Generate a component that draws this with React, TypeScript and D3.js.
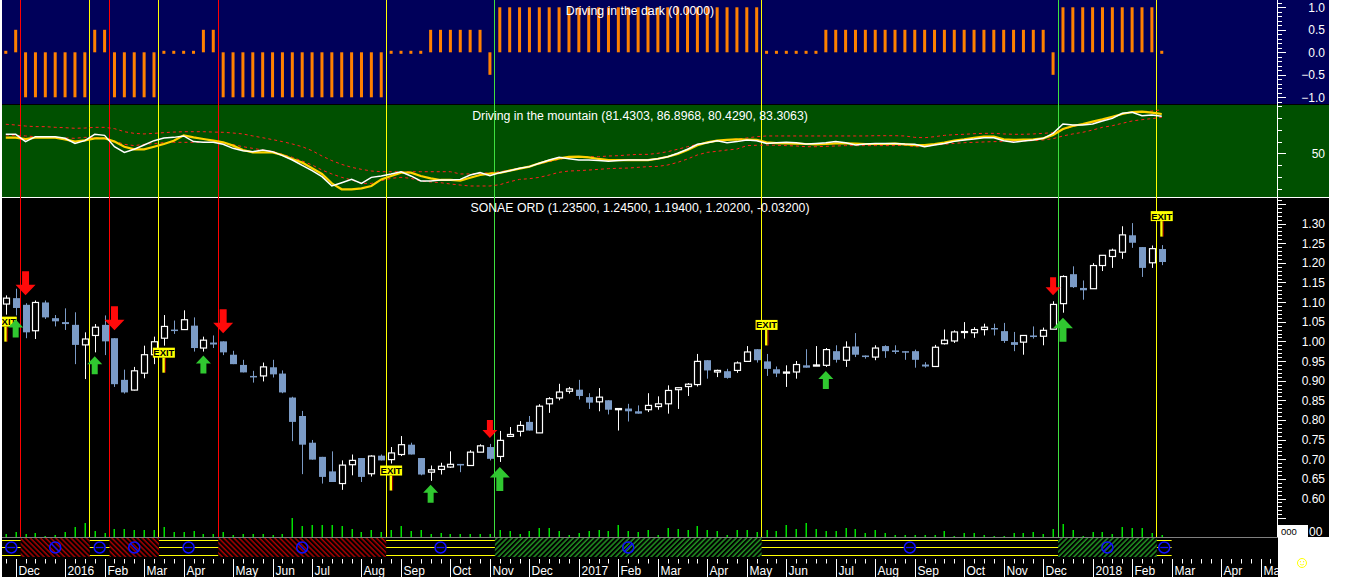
import React, { useEffect, useRef } from "react";
import * as d3 from "d3";

// weekly bars, the first one is the week ending Fri 27 Nov 2015
const firstWeek = new Date(2015, 10, 27);
const axisWeeks = 129; // the time axis runs on past the last bar

const opens = [
  1.095, 1.11, 1.093, 1.027, 1.099, 1.059, 1.049, 1.042, 0.991, 1.015,
  1.042, 1.008, 0.902, 0.876, 0.919, 0.966, 1.008, 1.03, 1.03, 1.04,
  0.983, 0.997, 1.0, 0.966, 0.94, 0.912, 0.912, 0.934, 0.918, 0.857,
  0.81, 0.742, 0.706, 0.669, 0.638, 0.686, 0.703, 0.663, 0.709, 0.699,
  0.712, 0.737, 0.703, 0.667, 0.674, 0.68, 0.688, 0.684, 0.718, 0.731,
  0.707, 0.758, 0.771, 0.795, 0.767, 0.841, 0.856, 0.873, 0.877, 0.858,
  0.846, 0.85, 0.826, 0.829, 0.822, 0.826, 0.834, 0.841, 0.877, 0.885,
  0.89, 0.952, 0.922, 0.924, 0.926, 0.949, 0.98, 0.949, 0.929, 0.919,
  0.922, 0.939, 0.937, 0.939, 0.975, 0.952, 0.987, 0.964, 0.96, 0.988,
  0.977, 0.975, 0.975, 0.941, 0.936, 0.994, 1.001, 1.024, 1.022, 1.03,
  1.034, 1.026, 0.998, 0.998, 1.015, 1.013, 1.031, 1.096, 1.171, 1.136,
  1.134, 1.193, 1.216, 1.227, 1.27, 1.24, 1.2, 1.235,
];
const highs = [
  1.117, 1.134, 1.097, 1.104, 1.104, 1.067, 1.084, 1.074, 1.023, 1.044,
  1.066, 1.008, 0.928, 0.935, 0.989, 1.012, 1.067, 1.053, 1.079, 1.061,
  1.012, 1.015, 1.0, 0.976, 0.953, 0.925, 0.946, 0.953, 0.926, 0.859,
  0.823, 0.749, 0.706, 0.72, 0.697, 0.712, 0.703, 0.71, 0.712, 0.731,
  0.759, 0.742, 0.703, 0.684, 0.691, 0.72, 0.688, 0.723, 0.738, 0.739,
  0.772, 0.782, 0.797, 0.81, 0.84, 0.858, 0.892, 0.884, 0.902, 0.868,
  0.881, 0.85, 0.829, 0.841, 0.837, 0.868, 0.86, 0.888, 0.882, 0.894,
  0.968, 0.952, 0.928, 0.93, 0.949, 0.988, 0.98, 0.968, 0.936, 0.939,
  0.95, 0.98, 0.988, 0.983, 0.99, 1.0, 1.021, 0.964, 0.99, 0.99,
  0.99, 0.975, 0.979, 0.947, 0.991, 1.03, 1.028, 1.049, 1.036, 1.045,
  1.045, 1.047, 1.024, 1.015, 1.038, 1.035, 1.102, 1.168, 1.191, 1.155,
  1.199, 1.219, 1.236, 1.293, 1.301, 1.24, 1.244, 1.245,
];
const lows = [
  1.068, 1.066, 1.008, 1.006, 1.057, 1.038, 1.029, 0.942, 0.904, 0.972,
  0.965, 0.884, 0.867, 0.875, 0.906, 0.942, 0.989, 1.019, 1.03, 0.974,
  0.974, 0.983, 0.965, 0.942, 0.921, 0.895, 0.898, 0.908, 0.868, 0.746,
  0.662, 0.699, 0.638, 0.642, 0.622, 0.659, 0.642, 0.656, 0.697, 0.689,
  0.708, 0.712, 0.659, 0.645, 0.661, 0.678, 0.667, 0.684, 0.718, 0.697,
  0.693, 0.758, 0.758, 0.773, 0.767, 0.818, 0.85, 0.867, 0.852, 0.828,
  0.822, 0.814, 0.773, 0.796, 0.816, 0.82, 0.826, 0.816, 0.828, 0.861,
  0.885, 0.905, 0.909, 0.905, 0.92, 0.949, 0.946, 0.912, 0.909, 0.884,
  0.905, 0.933, 0.937, 0.935, 0.946, 0.935, 0.96, 0.956, 0.952, 0.958,
  0.968, 0.953, 0.933, 0.933, 0.936, 0.992, 0.996, 1.007, 1.009, 1.015,
  1.015, 0.996, 0.975, 0.966, 1.007, 0.99, 1.031, 1.073, 1.136, 1.106,
  1.134, 1.179, 1.187, 1.21, 1.238, 1.164, 1.187, 1.194,
];
const closes = [
  1.11, 1.085, 1.023, 1.099, 1.061, 1.051, 1.044, 0.991, 1.006, 1.036,
  1.0, 0.891, 0.87, 0.925, 0.966, 0.999, 1.038, 1.028, 1.055, 0.983,
  1.003, 0.992, 0.972, 0.942, 0.921, 0.91, 0.935, 0.916, 0.87, 0.795,
  0.737, 0.699, 0.655, 0.642, 0.685, 0.697, 0.655, 0.708, 0.697, 0.716,
  0.737, 0.712, 0.661, 0.673, 0.682, 0.687, 0.687, 0.718, 0.734, 0.701,
  0.748, 0.763, 0.786, 0.773, 0.835, 0.854, 0.871, 0.879, 0.861, 0.844,
  0.858, 0.826, 0.829, 0.822, 0.816, 0.837, 0.841, 0.875, 0.882, 0.891,
  0.949, 0.926, 0.926, 0.907, 0.945, 0.973, 0.952, 0.93, 0.918, 0.922,
  0.941, 0.933, 0.94, 0.979, 0.953, 0.985, 0.966, 0.96, 0.983, 0.975,
  0.973, 0.974, 0.953, 0.936, 0.985, 1.003, 1.024, 1.025, 1.03, 1.036,
  1.031, 1.001, 0.991, 1.015, 1.011, 1.028, 1.094, 1.165, 1.138, 1.13,
  1.193, 1.219, 1.232, 1.271, 1.251, 1.187, 1.236, 1.202,
];
// volume, thousands of shares
const volumes = [
  300, 500, 300, 400, 100, 200, 500, 1000, 1400, 600,
  400, 800, 800, 700, 700, 700, 1000, 500, 500, 600,
  300, 300, 500, 200, 300, 300, 300, 200, 300, 1900,
  1100, 1200, 1200, 1200, 1100, 800, 500, 700, 500, 700,
  1100, 600, 700, 300, 400, 300, 300, 300, 300, 300,
  700, 600, 300, 600, 900, 900, 600, 200, 400, 600,
  700, 600, 1200, 600, 500, 700, 200, 900, 800, 700,
  1100, 700, 600, 200, 700, 700, 500, 700, 600, 1200,
  800, 1400, 800, 600, 600, 900, 800, 400, 700, 400,
  200, 200, 200, 200, 200, 600, 100, 400, 400, 200,
  100, 100, 400, 400, 500, 300, 800, 1300, 700, 100,
  500, 500, 300, 1000, 900, 900, 400, 200,
];

// "Driving in the dark"
const darkValues = [
  0, 0.5, -1, -1, -1, -1, -1, -1, -1, 0.5,
  0.5, -1, -1, -1, -1, -1, 0, 0, 0, 0,
  0.5, 0.5, -1, -1, -1, -1, -1, -1, -1, -1,
  -1, -1, -1, -1, -1, -1, -1, -1, -1, 0,
  0, 0, 0, 0.5, 0.5, 0.5, 0.5, 0.5, 0.5, -0.5,
  1, 1, 1, 1, 1, 1, 1, 1, 1, 1,
  1, 1, 1, 1, 1, 1, 1, 1, 1, 1,
  1, 1, 1, 1, 1, 1, 1, 0, 0, 0,
  0, 0, 0, 0.5, 0.5, 0.5, 0.5, 0.5, 0.5, 0.5,
  0.5, 0.5, 0.5, 0.5, 0.5, 0.5, 0.5, 0.5, 0.5, 0.5,
  0.5, 0.5, 0.5, 0.5, 0.5, 0.5, -0.5, 1, 1, 1,
  1, 1, 1, 1, 1, 1, 1, 0,
];

// "Driving in the mountain"
const mountainWhite = [
  66.1, 66.1, 59.9, 64.1, 64.1, 64.1, 62.7, 58.4, 60.7, 66.1,
  65.2, 55.6, 50.8, 53.4, 57.0, 60.7, 63.0, 63.5, 64.7, 59.9,
  59.3, 59.3, 57.6, 54.2, 52.2, 51.4, 52.8, 51.4, 48.0, 44.3,
  39.8, 35.3, 30.2, 22.3, 25.1, 27.9, 24.5, 29.6, 30.8, 32.5,
  34.4, 30.8, 26.5, 26.5, 27.4, 27.4, 27.9, 31.6, 33.6, 31.0,
  33.6, 35.3, 37.3, 38.7, 41.5, 44.3, 46.6, 45.4, 44.3, 44.3,
  43.8, 43.2, 43.8, 44.3, 44.3, 44.3, 45.4, 47.1, 50.0, 53.4,
  57.6, 59.0, 60.7, 59.0, 59.9, 61.3, 60.7, 58.4, 59.0, 59.3,
  59.0, 57.9, 58.4, 59.0, 59.9, 59.0, 57.0, 57.9, 58.4, 58.4,
  58.4, 57.9, 57.6, 55.6, 57.0, 58.4, 60.1, 61.3, 62.1, 63.2,
  63.2, 60.7, 59.3, 60.4, 61.3, 62.7, 66.9, 74.8, 74.0, 74.0,
  74.8, 77.4, 79.6, 83.9, 84.7, 81.9, 82.5, 81.4303,
];
const mountainYellow = [
  63.2, 63.2, 62.1, 63.2, 63.2, 63.2, 61.8, 59.9, 61.0, 62.7,
  62.7, 59.9, 55.6, 53.4, 53.4, 55.6, 57.9, 60.7, 65.2, 63.5,
  62.1, 60.7, 59.3, 56.5, 52.8, 50.8, 50.8, 50.8, 48.6, 45.2,
  42.1, 37.3, 32.5, 24.5, 19.5, 19.5, 20.3, 22.3, 27.9, 30.8,
  33.6, 33.6, 30.8, 28.8, 27.4, 27.4, 26.8, 29.3, 31.6, 32.7,
  33.3, 35.3, 37.0, 38.7, 41.5, 43.8, 45.7, 46.9, 47.1, 46.6,
  45.2, 44.3, 44.3, 44.3, 44.3, 44.3, 45.4, 47.1, 49.4, 52.8,
  56.8, 59.3, 60.7, 61.3, 61.8, 61.6, 61.3, 59.3, 58.7, 58.4,
  58.2, 57.9, 57.6, 57.9, 58.4, 58.4, 58.2, 57.9, 57.9, 57.9,
  58.2, 57.6, 57.0, 57.0, 57.9, 59.0, 60.7, 61.8, 63.2, 64.1,
  64.1, 61.8, 61.3, 61.6, 61.8, 62.7, 65.5, 70.6, 73.1, 74.8,
  76.8, 78.8, 81.0, 83.3, 85.0, 85.3, 84.4, 83.3063,
];
const mountainUpper = [
  74.6, 74.0, 73.1, 72.6, 72.6, 72.0, 71.7, 71.2, 71.4, 72.0,
  72.0, 70.9, 68.3, 66.9, 66.4, 66.9, 67.5, 68.0, 68.3, 68.3,
  68.3, 68.0, 67.8, 67.2, 66.4, 64.7, 63.2, 61.6, 59.9, 57.9,
  55.6, 52.2, 47.7, 43.8, 40.6, 38.1, 36.4, 35.0, 34.4, 34.4,
  34.4, 34.4, 34.4, 34.4, 34.4, 34.4, 32.5, 32.5, 33.0, 33.6,
  34.4, 35.8, 37.3, 39.2, 40.9, 42.9, 44.9, 46.3, 47.1, 47.1,
  47.1, 47.7, 48.0, 48.6, 49.1, 49.1, 50.0, 51.4, 53.4, 55.6,
  57.6, 59.0, 60.4, 61.3, 62.1, 63.0, 64.1, 64.7, 64.7, 64.7,
  64.7, 64.7, 64.7, 64.7, 64.7, 64.7, 64.7, 64.7, 64.9, 64.9,
  64.9, 64.7, 63.5, 63.2, 64.1, 65.2, 65.8, 66.1, 66.6, 66.9,
  66.9, 66.4, 66.1, 66.1, 66.4, 66.9, 67.5, 70.3, 72.6, 74.8,
  76.2, 78.2, 80.5, 83.3, 84.7, 85.3, 85.8, 86.8968,
];
const mountainLower = [
  65.5, 65.2, 64.7, 64.1, 64.1, 63.5, 63.0, 62.7, 63.5, 63.5,
  62.7, 60.4, 57.6, 56.5, 57.6, 58.2, 59.0, 59.3, 59.3, 59.3,
  59.3, 59.3, 58.7, 57.3, 55.6, 54.2, 52.8, 51.7, 49.1, 46.6,
  43.5, 40.1, 35.8, 32.5, 29.6, 27.4, 24.5, 24.5, 26.8, 28.8,
  29.6, 28.8, 26.5, 25.7, 25.1, 24.0, 23.1, 22.3, 22.3, 22.3,
  23.4, 25.9, 27.9, 28.5, 29.6, 31.6, 33.9, 35.0, 35.3, 35.8,
  36.4, 37.0, 37.3, 37.5, 38.1, 38.7, 38.9, 40.1, 42.3, 45.2,
  48.6, 50.8, 51.7, 52.8, 53.6, 56.5, 56.8, 57.0, 56.8, 56.5,
  56.2, 55.6, 55.6, 55.9, 56.2, 56.5, 56.5, 56.5, 56.5, 56.5,
  56.5, 56.8, 55.6, 55.6, 57.0, 57.6, 58.4, 59.0, 59.3, 59.6,
  59.9, 59.9, 60.1, 60.4, 60.7, 61.3, 62.4, 64.7, 66.4, 67.8,
  69.7, 72.0, 73.4, 75.4, 77.4, 78.5, 79.4, 80.429,
];

const darkTicks = [1.0, 0.5, 0.0, -0.5, -1.0];
const mountainTicks = [50];
const priceTicks = [1.3, 1.25, 1.2, 1.15, 1.1, 1.05, 1.0, 0.95, 0.9, 0.85, 0.8, 0.75, 0.7, 0.65, 0.6];

const titleDark = "Driving in the dark (0.0000)";
const titleMountain = "Driving in the mountain (81.4303, 86.8968, 80.4290, 83.3063)";
const titlePrice = "SONAE ORD (1.23500, 1.24500, 1.19400, 1.20200, -0.03200)";

// position changes: short = red, flat/exit = yellow, long = green
const signals = [
  { bar: 2, kind: "short" },
  { bar: 9, kind: "flat" },
  { bar: 11, kind: "short" },
  { bar: 16, kind: "flat" },
  { bar: 22, kind: "short" },
  { bar: 39, kind: "flat" },
  { bar: 50, kind: "long" },
  { bar: 77, kind: "flat" },
  { bar: 107, kind: "long" },
  { bar: 117, kind: "flat" },
];

const arrows = [
  { bar: 1, dir: "up", big: false },
  { bar: 2, dir: "down", big: true },
  { bar: 9, dir: "up", big: false },
  { bar: 11, dir: "down", big: true },
  { bar: 20, dir: "up", big: false },
  { bar: 22, dir: "down", big: true },
  { bar: 43, dir: "up", big: false },
  { bar: 49, dir: "down", big: false },
  { bar: 50, dir: "up", big: true },
  { bar: 83, dir: "up", big: false },
  { bar: 106, dir: "down", big: false },
  { bar: 107, dir: "up", big: true },
];

const exits = [
  { bar: 0, side: "below" },
  { bar: 16, side: "below" },
  { bar: 39, side: "below" },
  { bar: 77, side: "above" },
  { bar: 117, side: "above" },
];

const lineColor: Record<string, string> = { short: "#ff0000", flat: "#ffff00", long: "#3ee03e" };

export default function App() {
  const svgRef = useRef<SVGSVGElement | null>(null);

  useEffect(() => {
    const node = svgRef.current;
    if (!node) return;
    document.body.style.margin = "0";
    const svg = d3.select(node);
    svg.selectAll("*").remove();

    const font = "'Liberation Sans', Arial, sans-serif";
    const plotLeft = 2;
    const plotRight = 1278;
    const panelRight = 1329;

    const x = d3.scaleLinear().domain([0, 117]).range([5.8, 1161.76]);
    const step = x(1) - x(0);
    const yDark = d3.scaleLinear().domain([-1, 1]).range([97.3, 7.3]);
    const yMount = d3.scaleLinear().domain([20, 90]).range([188.7, 106.1]);
    const yPrice = d3.scaleLinear().domain([0.6, 1.3]).range([498.5, 223.5]);
    const yVol = d3.scaleLinear().domain([0, 2000]).range([537, 517]);

    const defs = svg.append("defs");
    defs
      .append("clipPath")
      .attr("id", "plotClip")
      .append("rect")
      .attr("x", plotLeft)
      .attr("y", 0)
      .attr("width", plotRight - plotLeft)
      .attr("height", 577);

    const hatch = (id: string, color: string, angle: number) => {
      const p = defs
        .append("pattern")
        .attr("id", id)
        .attr("patternUnits", "userSpaceOnUse")
        .attr("width", 3.6)
        .attr("height", 3.6)
        .attr("patternTransform", `rotate(${angle})`);
      p.append("line")
        .attr("x1", 1)
        .attr("x2", 1)
        .attr("y1", 0)
        .attr("y2", 3.6)
        .attr("stroke", color)
        .attr("stroke-width", 1);
    };
    hatch("hatchShort", "#ff0000", -45);
    hatch("hatchLong", "#33dd33", 45);

    //* panel backgrounds
    const bg = (y: number, h: number, fill: string, w = panelRight - plotLeft) =>
      svg
        .append("rect")
        .attr("x", plotLeft)
        .attr("y", y)
        .attr("width", w)
        .attr("height", h)
        .attr("fill", fill);
    bg(0, 104, "#00005a");
    bg(104, 1, "#000000");
    bg(105, 92, "#005000");
    bg(197, 1, "#ffffff");
    bg(198, 339, "#000000");
    bg(537, 1, "#808080", plotRight - plotLeft);
    bg(538, 39, "#000000", plotRight - plotLeft);

    const plot = svg.append("g").attr("clip-path", "url(#plotClip)");

    // signal lines through all three panels
    const signalX = (bar: number) => x(bar) - step / 2;
    signals.forEach((s) => {
      plot
        .append("line")
        .attr("x1", signalX(s.bar))
        .attr("x2", signalX(s.bar))
        .attr("y1", 0)
        .attr("y2", 537)
        .attr("stroke", lineColor[s.kind])
        .attr("stroke-width", 1)
        .attr("shape-rendering", "crispEdges");
    });

    //* top panel histogram
    plot
      .append("g")
      .selectAll("rect")
      .data(darkValues)
      .enter()
      .append("rect")
      .attr("x", (d, i) => x(i) - 1.5)
      .attr("width", 3)
      .attr("y", (d) => (d === 0 ? yDark(0) - 1.5 : Math.min(yDark(d), yDark(0))))
      .attr("height", (d) => (d === 0 ? 3 : Math.abs(yDark(d) - yDark(0))))
      .attr("fill", "#ff8000");

    //* middle panel lines
    const line = d3
      .line<number>()
      .x((d, i) => x(i))
      .y((d) => yMount(d));
    [mountainUpper, mountainLower].forEach((series) => {
      plot
        .append("path")
        .attr("d", line(series))
        .attr("fill", "none")
        .attr("stroke", "#ff2020")
        .attr("stroke-width", 1)
        .attr("stroke-dasharray", "3,3");
    });
    plot
      .append("path")
      .attr("d", line(mountainYellow))
      .attr("fill", "none")
      .attr("stroke", "#ffd200")
      .attr("stroke-width", 2.2);
    plot
      .append("path")
      .attr("d", line(mountainWhite))
      .attr("fill", "none")
      .attr("stroke", "#ffffff")
      .attr("stroke-width", 1.5);

    //* volume
    plot
      .append("g")
      .selectAll("rect")
      .data(volumes)
      .enter()
      .append("rect")
      .attr("x", (d, i) => Math.round(x(i)) - 0.5)
      .attr("width", 1.5)
      .attr("y", (d) => yVol(d))
      .attr("height", (d) => 537 - yVol(d))
      .attr("fill", "#00e000");

    //* candles
    const bull = "#ffffff";
    const bear = "#7b9bc6";
    const candles = plot.append("g");
    opens.forEach((o, i) => {
      const c = closes[i];
      const up = c >= o;
      const cx = Math.round(x(i)) + 0.5;
      candles
        .append("line")
        .attr("x1", cx)
        .attr("x2", cx)
        .attr("y1", yPrice(highs[i]))
        .attr("y2", yPrice(lows[i]))
        .attr("stroke", up ? bull : bear)
        .attr("stroke-width", 1);
      const top = yPrice(Math.max(o, c));
      const bot = yPrice(Math.min(o, c));
      if (up) {
        candles
          .append("rect")
          .attr("x", cx - 3)
          .attr("width", 6)
          .attr("y", top)
          .attr("height", Math.max(bot - top, 1))
          .attr("fill", "#000000")
          .attr("stroke", bull)
          .attr("stroke-width", 1.2);
      } else {
        candles
          .append("rect")
          .attr("x", cx - 3.5)
          .attr("width", 7)
          .attr("y", top)
          .attr("height", Math.max(bot - top, 1.5))
          .attr("fill", bear);
      }
    });

    //* exit labels
    exits.forEach((e) => {
      const cx = x(e.bar);
      const g = plot.append("g");
      let labelTop: number;
      let stickTop: number;
      let stickBot: number;
      if (e.side === "above") {
        const yh = yPrice(highs[e.bar]);
        labelTop = yh - 34;
        stickTop = yh - 24;
        stickBot = yh - 8.5;
      } else {
        const yl = yPrice(lows[e.bar]);
        labelTop = yl + 2;
        stickTop = yl + 12;
        stickBot = yl + 27;
      }
      g.append("rect")
        .attr("x", cx - 1.5)
        .attr("y", stickTop)
        .attr("width", 2.5)
        .attr("height", stickBot - stickTop)
        .attr("fill", "#ffff00");
      g.append("rect")
        .attr("x", cx + 1)
        .attr("y", stickTop)
        .attr("width", 1)
        .attr("height", stickBot - stickTop)
        .attr("fill", "#a00000");
      g.append("rect")
        .attr("x", cx - 11)
        .attr("y", labelTop)
        .attr("width", 22)
        .attr("height", 10)
        .attr("fill", "#ffff00");
      g.append("text")
        .attr("x", cx)
        .attr("y", labelTop + 8.5)
        .attr("text-anchor", "middle")
        .attr("font-family", font)
        .attr("font-size", 9.5)
        .attr("font-weight", "bold")
        .attr("fill", "#000000")
        .text("EXIT");
    });

    //* arrows
    arrows.forEach((a) => {
      const cx = x(a.bar);
      const hw = a.big ? 10 : 7.5;
      const hh = a.big ? 10.5 : 8;
      const sw = a.big ? 3.5 : 3;
      const sh = a.big ? 13.5 : 10;
      let pts: [number, number][];
      if (a.dir === "down") {
        const ty = yPrice(highs[a.bar]) - (a.big ? 8 : 6);
        pts = [
          [cx - sw, ty - hh - sh],
          [cx + sw, ty - hh - sh],
          [cx + sw, ty - hh],
          [cx + hw, ty - hh],
          [cx, ty],
          [cx - hw, ty - hh],
          [cx - sw, ty - hh],
        ];
      } else {
        const ty = yPrice(lows[a.bar]) + (a.big ? 5 : 4);
        pts = [
          [cx - sw, ty + hh + sh],
          [cx + sw, ty + hh + sh],
          [cx + sw, ty + hh],
          [cx + hw, ty + hh],
          [cx, ty],
          [cx - hw, ty + hh],
          [cx - sw, ty + hh],
        ];
      }
      plot
        .append("path")
        .attr("d", "M" + pts.map((p) => p.join(",")).join("L") + "Z")
        .attr("fill", a.dir === "down" ? "#ff0a0a" : "#30c830");
    });

    //* position strip
    const bounds = [plotLeft, ...signals.map((s) => signalX(s.bar)), x(118)];
    const states = ["flat", ...signals.map((s) => s.kind)];
    const strip = plot.append("g");
    states.forEach((state, j) => {
      const x0 = bounds[j];
      const x1 = bounds[j + 1];
      if (state === "flat") {
        [540.5, 547.5, 555.5].forEach((yy) => {
          strip
            .append("line")
            .attr("x1", x0)
            .attr("x2", x1)
            .attr("y1", yy)
            .attr("y2", yy)
            .attr("stroke", "#ffff00")
            .attr("stroke-width", 1);
        });
      } else {
        strip
          .append("rect")
          .attr("x", x0)
          .attr("y", 538)
          .attr("width", x1 - x0)
          .attr("height", 19)
          .attr("fill", state === "short" ? "url(#hatchShort)" : "url(#hatchLong)");
      }
      const mx = (x0 + x1) / 2;
      strip
        .append("circle")
        .attr("cx", mx)
        .attr("cy", 547.5)
        .attr("r", 5.5)
        .attr("fill", state === "flat" ? "#000000" : "none")
        .attr("stroke", "#1010ff")
        .attr("stroke-width", 1.5);
      const d = state === "flat" ? [[-4, 0], [4, 0]] : state === "short" ? [[-3.5, -3.5], [3.5, 3.5]] : [[-3.5, 3.5], [3.5, -3.5]];
      strip
        .append("line")
        .attr("x1", mx + d[0][0])
        .attr("y1", 547.5 + d[0][1])
        .attr("x2", mx + d[1][0])
        .attr("y2", 547.5 + d[1][1])
        .attr("stroke", "#1010ff")
        .attr("stroke-width", 1.3);
    });

    //* time axis
    const weekDates = d3.range(axisWeeks).map((i) => {
      const d = d3.timeWeek.offset(firstWeek, i);
      // market closed on 1 January, the bar carries the 31 December date
      return d.getMonth() === 0 && d.getDate() === 1 ? d3.timeDay.offset(d, -1) : d;
    });
    const timeAxis = plot.append("g");
    const xw = d3.scaleLinear().domain([0, 117]).range([5.8, 1161.76]);
    weekDates.forEach((d, i) => {
      const tx = Math.round(xw(i)) + 0.5;
      if (tx > plotRight) return;
      const monthStart = i > 0 && d.getMonth() !== weekDates[i - 1].getMonth();
      timeAxis
        .append("line")
        .attr("x1", tx)
        .attr("x2", tx)
        .attr("y1", 559)
        .attr("y2", monthStart ? 577 : 563.5)
        .attr("stroke", "#ffffff")
        .attr("stroke-width", 1);
      if (monthStart) {
        timeAxis
          .append("text")
          .attr("x", tx + 2)
          .attr("y", 575)
          .attr("font-family", font)
          .attr("font-size", 12)
          .attr("fill", "#ffffff")
          .text(d.getMonth() === 0 ? d3.timeFormat("%Y")(d) : d3.timeFormat("%b")(d));
      }
    });

    //* right axis
    svg
      .append("line")
      .attr("x1", plotRight - 0.5)
      .attr("x2", plotRight - 0.5)
      .attr("y1", 0)
      .attr("y2", 537)
      .attr("stroke", "#ffffff")
      .attr("stroke-width", 1);
    const axisG = svg.append("g");
    const tick = (y: number, major: boolean) =>
      axisG
        .append("line")
        .attr("x1", plotRight - 0.5)
        .attr("x2", plotRight + (major ? 8 : 4))
        .attr("y1", Math.round(y) + 0.5)
        .attr("y2", Math.round(y) + 0.5)
        .attr("stroke", "#ffffff")
        .attr("stroke-width", 1);
    const label = (y: number, txt: string) =>
      axisG
        .append("text")
        .attr("x", 1325)
        .attr("y", y + 4.5)
        .attr("text-anchor", "end")
        .attr("font-family", font)
        .attr("font-size", 12)
        .attr("fill", "#ffffff")
        .text(txt);

    d3.range(-11, 12).forEach((k) => tick(yDark(k / 10), k % 5 === 0));
    darkTicks.forEach((v) => label(yDark(v), d3.format(".1f")(v)));
    d3.range(20, 100, 10).forEach((v) => tick(yMount(v), mountainTicks.includes(v)));
    mountainTicks.forEach((v) => label(yMount(v), String(v)));
    d3.range(55, 137).forEach((k) => tick(yPrice(k / 100), k % 5 === 0));
    priceTicks.forEach((v) => label(yPrice(v), d3.format(".2f")(v)));

    // volume scale box
    svg
      .append("rect")
      .attr("x", 1278.5)
      .attr("y", 525.5)
      .attr("width", 29)
      .attr("height", 11)
      .attr("fill", "#ffffff")
      .attr("stroke", "#ffffff");
    svg
      .append("text")
      .attr("x", 1281)
      .attr("y", 535)
      .attr("font-family", font)
      .attr("font-size", 9.5)
      .attr("fill", "#000000")
      .text("000");
    svg
      .append("text")
      .attr("x", 1309)
      .attr("y", 536)
      .attr("font-family", font)
      .attr("font-size", 12)
      .attr("fill", "#ffffff")
      .text("00");

    //* titles
    const title = (y: number, txt: string) =>
      svg
        .append("text")
        .attr("x", 640)
        .attr("y", y)
        .attr("text-anchor", "middle")
        .attr("font-family", font)
        .attr("font-size", 12.3)
        .attr("fill", "#ffffff")
        .text(txt);
    title(15, titleDark);
    title(119.5, titleMountain);
    title(212, titlePrice);

    // small smiley bottom right
    const sm = svg.append("g").attr("transform", "translate(1302,563)");
    sm.append("circle").attr("r", 4.5).attr("fill", "none").attr("stroke", "#ffff00").attr("stroke-width", 1);
    sm.append("circle").attr("cx", -1.6).attr("cy", -1.3).attr("r", 0.6).attr("fill", "#ffff00");
    sm.append("circle").attr("cx", 1.6).attr("cy", -1.3).attr("r", 0.6).attr("fill", "#ffff00");
    sm.append("path").attr("d", "M-2,1.2 Q0,3 2,1.2").attr("fill", "none").attr("stroke", "#ffff00").attr("stroke-width", 0.8);
  }, []);

  return (
    <svg
      ref={svgRef}
      width={1352}
      height={577}
      style={{ display: "block", background: "#ffffff" }}
    />
  );
}
